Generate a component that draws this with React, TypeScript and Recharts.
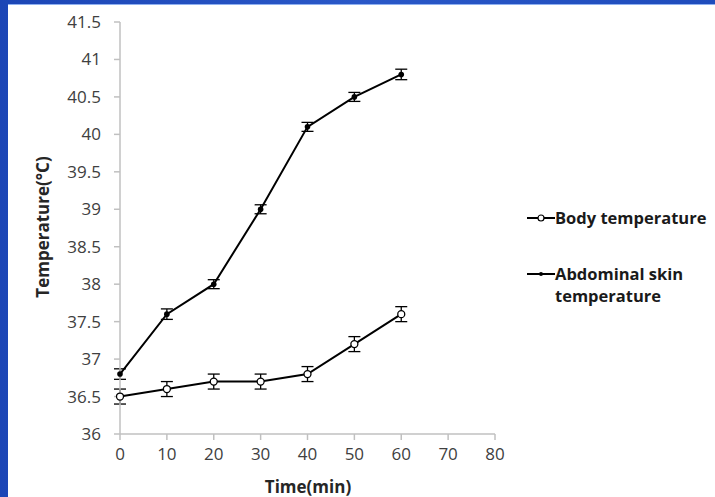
import { LineChart, Line, XAxis, YAxis, ErrorBar } from 'recharts';

const times = [0, 10, 20, 30, 40, 50, 60];
const bodyTemp = [36.5, 36.6, 36.7, 36.7, 36.8, 37.2, 37.6];
const bodyErr = [0.1, 0.1, 0.1, 0.1, 0.1, 0.1, 0.1];
const abdominalTemp = [36.8, 37.6, 38.0, 39.0, 40.1, 40.5, 40.8];
const abdominalErr = [0.07, 0.07, 0.06, 0.06, 0.06, 0.06, 0.07];
const xTicks = [0, 10, 20, 30, 40, 50, 60, 70, 80];
const yTicks = [36, 36.5, 37, 37.5, 38, 38.5, 39, 39.5, 40, 40.5, 41, 41.5];

const data = times.map((t, i) => ({
  time: t,
  body: bodyTemp[i],
  bodyErr: bodyErr[i],
  abdominal: abdominalTemp[i],
  abdominalErr: abdominalErr[i],
}));

const FONT = '"Open Sans", sans-serif';
const AXIS = '#c0c0c0';

function LegendBox() {
  const row = { display: 'flex', alignItems: 'flex-start', fontFamily: FONT, fontWeight: 700, fontSize: 16.5, color: '#1a1a1a', lineHeight: '22px' } as const;
  return (
    <div style={{ position: 'absolute', left: 527, top: 207, width: 220 }}>
      <div style={row}>
        <svg width={28} height={22} style={{ flexShrink: 0 }}>
          <line x1={0} y1={11} x2={28} y2={11} stroke="#000" strokeWidth={2} />
          <circle cx={14} cy={11} r={3} fill="#fff" stroke="#000" strokeWidth={1.2} />
        </svg>
        <span style={{ whiteSpace: 'nowrap' }}>Body temperature</span>
      </div>
      <div style={{ ...row, marginTop: 34 }}>
        <svg width={28} height={22} style={{ flexShrink: 0 }}>
          <line x1={0} y1={11} x2={28} y2={11} stroke="#000" strokeWidth={2} />
          <circle cx={14} cy={11} r={2} fill="#000" />
        </svg>
        <div>
          <div>Abdominal skin</div>
          <div>temperature</div>
        </div>
      </div>
    </div>
  );
}

export default function App() {
  return (
    <div style={{ position: 'fixed', left: 0, top: 0, width: 715, height: 497, background: 'linear-gradient(90deg, #1c46b6, #2a58c8 50%, #1f4cbc)', overflow: 'hidden' }}>
      <div style={{ position: 'absolute', left: 8, top: 4, right: 0, bottom: 0, background: '#fff', borderTop: '1px solid #8fb0f0' }} />
      <div style={{ position: 'absolute', left: 0, top: 0 }}>
        <LineChart width={715} height={497} data={data} margin={{ top: 22, right: 220, bottom: 0, left: 0 }}>
          <XAxis
            dataKey="time"
            type="number"
            domain={[0, 80]}
            ticks={xTicks}
            height={63}
            stroke={AXIS}
            strokeWidth={1.5}
            tickSize={6}
            tickMargin={8}
            tick={{ fill: '#404040', fontSize: 17, fontFamily: FONT }}
            label={{
              content: () => (
                <text x={308} y={493} textAnchor="middle" fontFamily={FONT} fontWeight={700} fontSize={17} fill="#262626">
                  Time(min)
                </text>
              ),
            }}
          />
          <YAxis
            type="number"
            domain={[36, 41.5]}
            ticks={yTicks}
            width={120}
            stroke={AXIS}
            strokeWidth={1.5}
            tickSize={6}
            tickMargin={13}
            tick={{ fill: '#404040', fontSize: 17, fontFamily: FONT }}
            label={{
              content: () => (
                <text x={49} y={227} transform="rotate(-90 49 227)" textAnchor="middle" fontFamily={FONT} fontWeight={700} fontSize={17} fill="#262626">
                  Temperature(°C)
                </text>
              ),
            }}
          />
          <Line
            dataKey="body"
            stroke="#000"
            strokeWidth={2}
            isAnimationActive={false}
            dot={{ r: 3.5, fill: '#fff', stroke: '#000', strokeWidth: 1.3 }}
            activeDot={false}
          >
            <ErrorBar dataKey="bodyErr" width={6} stroke="#000" strokeWidth={1.3} direction="y" />
          </Line>
          <Line
            dataKey="abdominal"
            stroke="#000"
            strokeWidth={2}
            isAnimationActive={false}
            dot={{ r: 2.8, fill: '#000', stroke: '#000', strokeWidth: 0 }}
            activeDot={false}
          >
            <ErrorBar dataKey="abdominalErr" width={6} stroke="#000" strokeWidth={1.3} direction="y" />
          </Line>
        </LineChart>
      </div>
      <LegendBox />
    </div>
  );
}
